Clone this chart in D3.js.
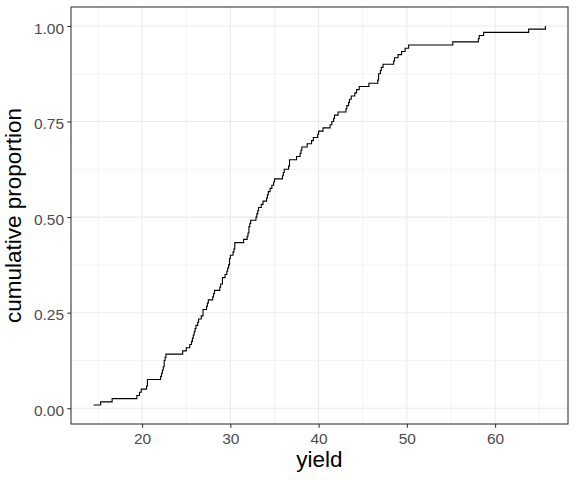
<!DOCTYPE html>
<html>
<head>
<meta charset="utf-8">
<script src="https://cdn.jsdelivr.net/npm/d3@7"></script>
<style>
  body { margin: 0; background: #fff; }
  text { font-family: "Liberation Sans", Arial, Helvetica, sans-serif; }
</style>
</head>
<body>
<div id="my_dataviz"></div>
<script>
const yields = [
  14.5, 15.3, 16.6, 19.4, 19.7, 19.9, 20.5, 20.6, 20.6, 22.1,
  22.2, 22.3, 22.4, 22.5, 22.5, 22.6, 22.7, 24.6, 25.0, 25.4,
  25.6, 25.7, 25.8, 25.9, 26.0, 26.1, 26.3, 26.4, 26.7, 26.9,
  26.9, 27.3, 27.4, 27.5, 28.0, 28.1, 28.2, 28.8, 28.9, 29.1,
  29.1, 29.4, 29.6, 29.7, 29.8, 29.9, 29.9, 30.0, 30.3, 30.4,
  30.5, 30.5, 31.5, 31.9, 32.0, 32.1, 32.1, 32.2, 32.3, 32.9,
  33.0, 33.1, 33.2, 33.5, 33.7, 34.1, 34.2, 34.3, 34.5, 34.7,
  34.9, 35.0, 35.9, 36.0, 36.1, 36.6, 36.7, 36.7, 37.5, 37.9,
  38.0, 38.1, 38.7, 39.2, 39.4, 39.9, 40.0, 40.5, 41.3, 41.5,
  41.7, 41.8, 42.2, 43.1, 43.2, 43.4, 43.5, 43.7, 44.1, 44.3,
  44.6, 45.7, 46.7, 46.8, 46.8, 47.0, 47.1, 47.3, 48.5, 48.6,
  49.0, 49.4, 49.8, 50.2, 55.2, 58.1, 58.2, 58.7, 63.8, 65.7
];
const xTicks = [20, 30, 40, 50, 60];
const xMinor = [15, 25, 35, 45, 55, 65];
const yTicks = [0, 0.25, 0.5, 0.75, 1];
const yMinor = [0.125, 0.375, 0.625, 0.875];

const W = 576, H = 480;
const margin = {top: 7, right: 8, bottom: 56, left: 71};
const width = W - margin.left - margin.right,
    height = H - margin.top - margin.bottom;

const svg = d3.select("#my_dataviz")
  .append("svg")
    .attr("width", W)
    .attr("height", H)
  .append("g")
    .attr("transform", `translate(${margin.left},${margin.top})`);

// ecdf
const sorted = yields.slice().sort((a, b) => a - b);
const n = sorted.length;
const ecdf = [];
sorted.forEach((v, i) => {
  if (i < n - 1 && sorted[i + 1] === v) return;
  ecdf.push({x: v, y: (i + 1) / n});
});

const xr = d3.extent(sorted), xpad = (xr[1] - xr[0]) * 0.05;
const yr = d3.extent(ecdf, d => d.y), ypad = (yr[1] - yr[0]) * 0.05;

const x = d3.scaleLinear()
  .domain([xr[0] - xpad, xr[1] + xpad])
  .range([0, width]);
const y = d3.scaleLinear()
  .domain([yr[0] - ypad, yr[1] + ypad])
  .range([height, 0]);

// grid
svg.selectAll(".xminor").data(xMinor).join("line")
  .attr("x1", d => x(d)).attr("x2", d => x(d))
  .attr("y1", 0).attr("y2", height)
  .attr("stroke", "#ebebeb").attr("stroke-width", 0.55);
svg.selectAll(".yminor").data(yMinor).join("line")
  .attr("y1", d => y(d)).attr("y2", d => y(d))
  .attr("x1", 0).attr("x2", width)
  .attr("stroke", "#ebebeb").attr("stroke-width", 0.55);
svg.selectAll(".xmajor").data(xTicks).join("line")
  .attr("x1", d => x(d)).attr("x2", d => x(d))
  .attr("y1", 0).attr("y2", height)
  .attr("stroke", "#ebebeb").attr("stroke-width", 1.07);
svg.selectAll(".ymajor").data(yTicks).join("line")
  .attr("y1", d => y(d)).attr("y2", d => y(d))
  .attr("x1", 0).attr("x2", width)
  .attr("stroke", "#ebebeb").attr("stroke-width", 1.07);

// the step line
const line = d3.line()
  .x(d => x(d.x))
  .y(d => y(d.y))
  .curve(d3.curveStepAfter);
svg.append("path")
  .datum(ecdf)
  .attr("d", line)
  .attr("fill", "none")
  .attr("stroke", "#000")
  .attr("stroke-width", 1.1);

// panel border
svg.append("rect")
  .attr("x", 0).attr("y", 0)
  .attr("width", width).attr("height", height)
  .attr("fill", "none")
  .attr("stroke", "#333333")
  .attr("stroke-width", 1.07);

// axes
const xAxis = svg.append("g")
  .attr("transform", `translate(0,${height})`)
  .call(d3.axisBottom(x).tickValues(xTicks).tickSize(3.7).tickPadding(5.3));
const yAxis = svg.append("g")
  .call(d3.axisLeft(y).tickValues(yTicks).tickFormat(d3.format(".2f")).tickSize(3.7).tickPadding(3.2));
[xAxis, yAxis].forEach(a => {
  a.select(".domain").remove();
  a.selectAll(".tick line").attr("stroke", "#333333").attr("stroke-width", 1.07);
  a.selectAll(".tick text")
    .attr("fill", "#4d4d4d")
    .style("font-size", "15.5px")
    .style("font-family", "'Liberation Sans', Arial, sans-serif");
});
yAxis.selectAll(".tick text").attr("dy", "0.46em");

// titles
svg.append("text")
  .attr("x", width / 2)
  .attr("y", height + 43)
  .attr("text-anchor", "middle")
  .style("font-size", "22.5px")
  .text("yield");
svg.append("text")
  .attr("transform", `translate(${-50},${height / 2}) rotate(-90)`)
  .attr("text-anchor", "middle")
  .style("font-size", "22.5px")
  .text("cumulative proportion");
</script>
</body>
</html>
